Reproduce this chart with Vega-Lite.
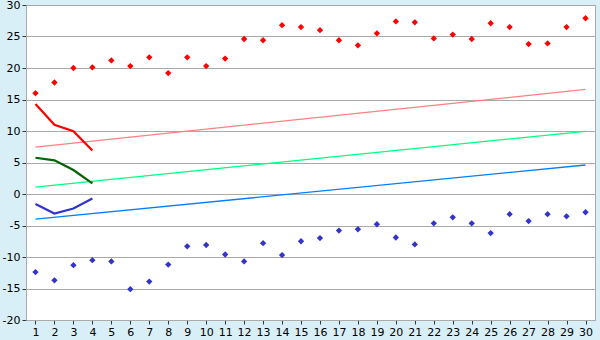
{
  "$schema": "https://vega.github.io/schema/vega-lite/v6.json",
  "autosize": "none",
  "width": 569,
  "height": 315,
  "padding": {"left": 26, "top": 5, "right": 5, "bottom": 20},
  "background": "#d9eff7",
  "config": {
    "view": {"fill": "white", "stroke": "#aaaaaa", "strokeWidth": 1},
    "axis": {"labelFont": "DejaVu Sans", "labelFontSize": 11, "labelColor": "black", "domainColor": "#aaaaaa", "tickColor": "#333333", "gridColor": "#aaaaaa", "tickSize": 4, "title": null}
  },
  "datasets": {
    "pts": [
      {"x": 1, "s": "hi", "v": 16.0}, {"x": 2, "s": "hi", "v": 17.7}, {"x": 3, "s": "hi", "v": 20.0}, {"x": 4, "s": "hi", "v": 20.1},
      {"x": 5, "s": "hi", "v": 21.2}, {"x": 6, "s": "hi", "v": 20.3}, {"x": 7, "s": "hi", "v": 21.7}, {"x": 8, "s": "hi", "v": 19.2},
      {"x": 9, "s": "hi", "v": 21.7}, {"x": 10, "s": "hi", "v": 20.3}, {"x": 11, "s": "hi", "v": 21.5}, {"x": 12, "s": "hi", "v": 24.6},
      {"x": 13, "s": "hi", "v": 24.4}, {"x": 14, "s": "hi", "v": 26.8}, {"x": 15, "s": "hi", "v": 26.5}, {"x": 16, "s": "hi", "v": 26.0},
      {"x": 17, "s": "hi", "v": 24.4}, {"x": 18, "s": "hi", "v": 23.6}, {"x": 19, "s": "hi", "v": 25.5}, {"x": 20, "s": "hi", "v": 27.4},
      {"x": 21, "s": "hi", "v": 27.25}, {"x": 22, "s": "hi", "v": 24.7}, {"x": 23, "s": "hi", "v": 25.3}, {"x": 24, "s": "hi", "v": 24.6},
      {"x": 25, "s": "hi", "v": 27.1}, {"x": 26, "s": "hi", "v": 26.5}, {"x": 27, "s": "hi", "v": 23.8}, {"x": 28, "s": "hi", "v": 23.9},
      {"x": 29, "s": "hi", "v": 26.5}, {"x": 30, "s": "hi", "v": 27.9},
      {"x": 1, "s": "lo", "v": -12.4}, {"x": 2, "s": "lo", "v": -13.7}, {"x": 3, "s": "lo", "v": -11.3}, {"x": 4, "s": "lo", "v": -10.5},
      {"x": 5, "s": "lo", "v": -10.7}, {"x": 6, "s": "lo", "v": -15.1}, {"x": 7, "s": "lo", "v": -13.9}, {"x": 8, "s": "lo", "v": -11.2},
      {"x": 9, "s": "lo", "v": -8.3}, {"x": 10, "s": "lo", "v": -8.1}, {"x": 11, "s": "lo", "v": -9.6}, {"x": 12, "s": "lo", "v": -10.7},
      {"x": 13, "s": "lo", "v": -7.8}, {"x": 14, "s": "lo", "v": -9.7}, {"x": 15, "s": "lo", "v": -7.5}, {"x": 16, "s": "lo", "v": -7.0},
      {"x": 17, "s": "lo", "v": -5.8}, {"x": 18, "s": "lo", "v": -5.6}, {"x": 19, "s": "lo", "v": -4.8}, {"x": 20, "s": "lo", "v": -6.9},
      {"x": 21, "s": "lo", "v": -8.0}, {"x": 22, "s": "lo", "v": -4.65}, {"x": 23, "s": "lo", "v": -3.7}, {"x": 24, "s": "lo", "v": -4.65},
      {"x": 25, "s": "lo", "v": -6.2}, {"x": 26, "s": "lo", "v": -3.2}, {"x": 27, "s": "lo", "v": -4.3}, {"x": 28, "s": "lo", "v": -3.2},
      {"x": 29, "s": "lo", "v": -3.55}, {"x": 30, "s": "lo", "v": -2.9}
    ],
    "trend": [
      {"x": 1, "s": "tr", "v": 7.45}, {"x": 30, "s": "tr", "v": 16.6},
      {"x": 1, "s": "tg", "v": 1.1}, {"x": 30, "s": "tg", "v": 9.95},
      {"x": 1, "s": "tb", "v": -4.0}, {"x": 30, "s": "tb", "v": 4.6}
    ],
    "short": [
      {"x": 1, "s": "sr", "v": 14.3}, {"x": 2, "s": "sr", "v": 11.0}, {"x": 3, "s": "sr", "v": 9.95}, {"x": 4, "s": "sr", "v": 6.9},
      {"x": 1, "s": "sg", "v": 5.75}, {"x": 2, "s": "sg", "v": 5.35}, {"x": 3, "s": "sg", "v": 3.8}, {"x": 4, "s": "sg", "v": 1.7},
      {"x": 1, "s": "sb", "v": -1.6}, {"x": 2, "s": "sb", "v": -3.1}, {"x": 3, "s": "sb", "v": -2.3}, {"x": 4, "s": "sb", "v": -0.7}
    ]
  },
  "encoding": {
    "x": {"field": "x", "type": "quantitative", "scale": {"domain": [0.5, 30.5], "nice": false, "zero": false},
      "axis": {"values": [1,2,3,4,5,6,7,8,9,10,11,12,13,14,15,16,17,18,19,20,21,22,23,24,25,26,27,28,29,30], "grid": false, "labelPadding": 2, "labelFlush": false}},
    "y": {"field": "v", "type": "quantitative", "scale": {"domain": [-20, 30], "nice": false},
      "axis": {"values": [-20,-15,-10,-5,0,5,10,15,20,25,30], "grid": true, "labelPadding": 2, "labelExpr": "'' + datum.value"}}
  },
  "layer": [
    {
      "data": {"name": "trend"},
      "mark": {"type": "line", "strokeWidth": 1.3},
      "encoding": {
        "detail": {"field": "s"},
        "color": {"field": "s", "type": "nominal", "scale": {"domain": ["tr", "tg", "tb"], "range": ["#ff8080", "#00ff80", "#0080ff"]}, "legend": null}
      }
    },
    {
      "data": {"name": "short"},
      "mark": {"type": "line", "strokeWidth": 2.2},
      "encoding": {
        "detail": {"field": "s"},
        "stroke": {"field": "s", "type": "nominal", "scale": {"domain": ["sr", "sg", "sb"], "range": ["#ff0000", "#006400", "#3333cc"]}, "legend": null}
      }
    },
    {
      "data": {"name": "pts"},
      "mark": {"type": "point", "shape": "diamond", "filled": true, "size": 40, "opacity": 1},
      "encoding": {
        "fill": {"field": "s", "type": "nominal", "scale": {"domain": ["hi", "lo"], "range": ["#ff0000", "#3333cc"]}, "legend": null}
      }
    }
  ]
}
